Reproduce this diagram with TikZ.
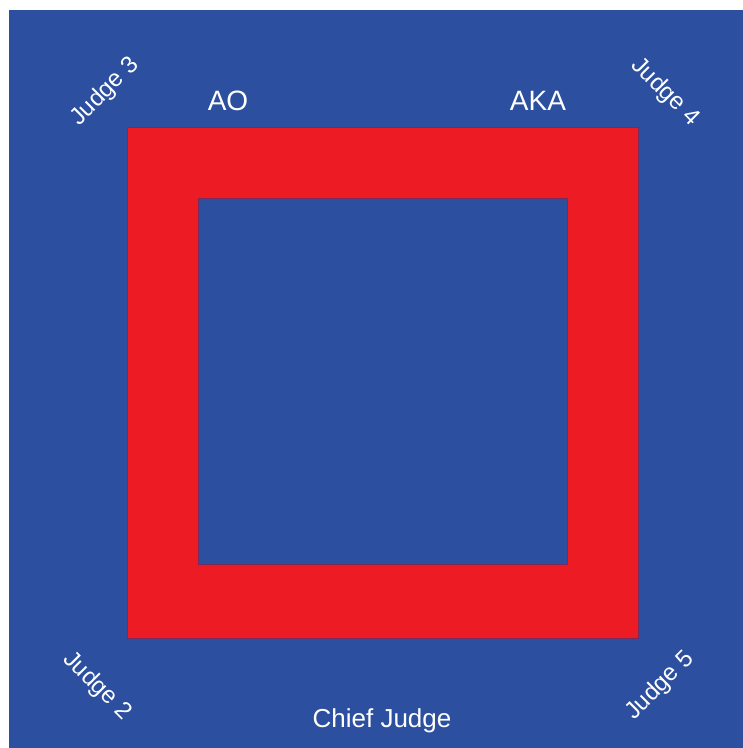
\documentclass[tikz,border=0pt]{standalone}
\usepackage{fontspec}
\setmainfont{Liberation Sans}
\definecolor{matblue}{HTML}{2C4F9F}
\definecolor{matred}{HTML}{ED1C24}
\definecolor{matedge}{HTML}{7A2A5A}
\tikzset{
  lbl/.style={text=white, inner sep=0pt, font=\fontsize{28}{32}\selectfont},
  judgelbl/.style={text=white, inner sep=0pt, font=\fontsize{24}{28}\selectfont},
  chieflbl/.style={text=white, inner sep=0pt, font=\fontsize{26}{30}\selectfont}
}
\begin{document}
\begin{tikzpicture}[x=1pt,y=-1pt]
\useasboundingbox (0,0) rectangle (743,748);
\fill[white] (0,0) rectangle (743,748);
\fill[matblue] (9,10) rectangle (743,748);
\fill[matred, draw=matedge, line width=0.8pt] (127,127) rectangle (638,638);
\fill[matblue, draw=matedge, line width=0.8pt] (198,198) rectangle (567,564);
\node[lbl] (ao) at (228,101) {AO};
\node[lbl] (aka) at (538,101) {AKA};
\node[judgelbl, rotate=45] (j3) at (105,92) {Judge 3};
\node[judgelbl, rotate=-45] (j4) at (665,92) {Judge 4};
\node[judgelbl, rotate=-45] (j2) at (97,686) {Judge 2};
\node[judgelbl, rotate=45] (j5) at (660,686) {Judge 5};
\node[chieflbl] (chief) at (382,721) {Chief Judge};
\end{tikzpicture}
\end{document}
